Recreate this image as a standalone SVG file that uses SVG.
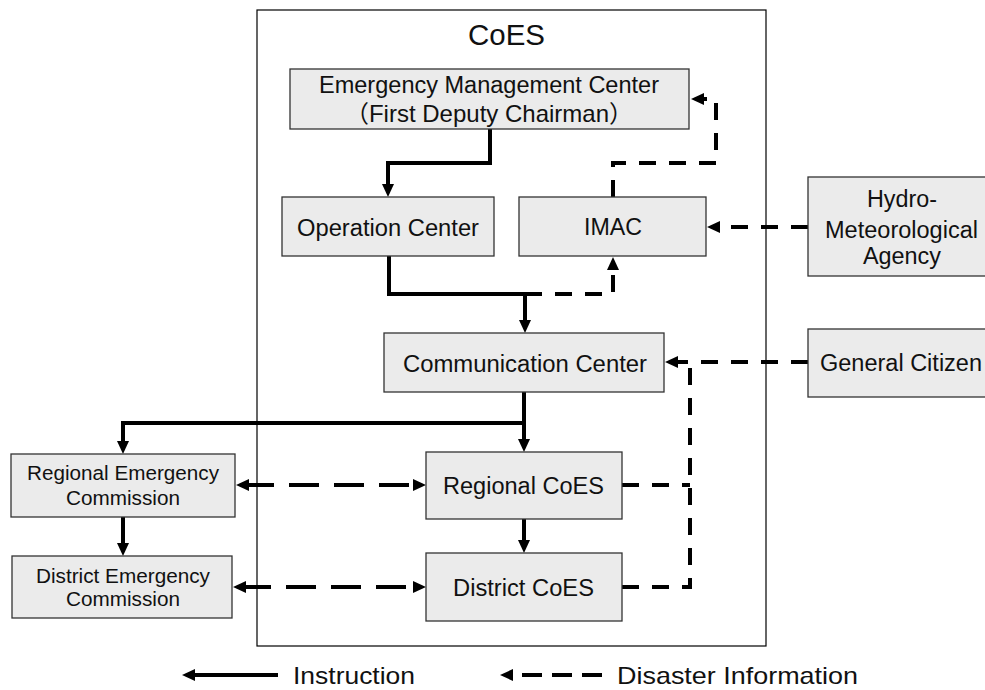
<svg xmlns="http://www.w3.org/2000/svg" width="985" height="690" viewBox="0 0 985 690">
<style>
.bx{fill:#ebebeb;stroke:#333;stroke-width:1.3}
.t{font-family:"Liberation Sans",Arial,"Noto Sans CJK JP",sans-serif;font-size:23.5px;fill:#111}
.ts{font-size:20.5px}
.sol{fill:none;stroke:#000;stroke-width:4;marker-end:url(#arr)}
.dsh{fill:none;stroke:#000;stroke-width:4;stroke-dasharray:17 13}
.dl{stroke-dasharray:30 15}
.ae{marker-end:url(#arr)}
.as{marker-start:url(#arr)}
</style>
<defs>
<marker id="arr" markerUnits="userSpaceOnUse" markerWidth="14" markerHeight="14" viewBox="0 0 14 14" refX="5" refY="7" orient="auto-start-reverse"><path d="M0,1 L13,7 L0,13 Z" fill="#000"/></marker>
</defs>
<rect width="985" height="690" fill="#fff"/>
<g id="coes">
<rect x="257" y="10" width="509" height="636" fill="none" stroke="#000" stroke-width="1.2"/>
<text class="t" x="468" y="45" style="font-size:29px" textLength="77" lengthAdjust="spacingAndGlyphs">CoES</text>
</g>
<g id="connectors">
<path class="sol" d="M490,129 V163 H388 V189"/>
<path class="sol" d="M389,256 V294 H525 V325"/>
<path class="sol" d="M524,392 V423 H123 V446"/>
<path class="sol" d="M524,423 V444"/>
<path class="sol" d="M123,517 V548"/>
<path class="sol" d="M524,519 V545"/>
<path class="dsh ae" d="M613,197 V163 H716 V99 H699"/>
<path class="dsh ae" d="M808,227 H715"/>
<path class="dsh ae" d="M525,294 H613 V265"/>
<path class="dsh ae" d="M808,362 H673"/>
<path class="dsh" d="M622,587 H690 V362"/>
<path class="dsh" d="M622,485 H690"/>
<path class="dsh dl ae as" d="M244,485 H418"/>
<path class="dsh dl ae as" d="M241,587 H418"/>
</g>
<g id="emc">
<rect class="bx" x="290" y="69" width="399" height="60"/>
<text class="t" x="319" y="93" textLength="340" lengthAdjust="spacingAndGlyphs">Emergency Management Center</text>
<text class="t" x="489" y="122" text-anchor="middle" style="font-size:24px">（First Deputy Chairman）</text>
</g>
<g id="operation">
<rect class="bx" x="282" y="197" width="212" height="59"/>
<text class="t" x="297" y="236" textLength="182" lengthAdjust="spacingAndGlyphs">Operation Center</text>
</g>
<g id="imac">
<rect class="bx" x="519" y="197" width="187" height="59"/>
<text class="t" x="584" y="235" textLength="58" lengthAdjust="spacingAndGlyphs">IMAC</text>
</g>
<g id="hydro">
<rect class="bx" x="808" y="177" width="186" height="99"/>
<text class="t" x="867" y="207" textLength="70" lengthAdjust="spacingAndGlyphs">Hydro-</text>
<text class="t" x="825" y="238" textLength="153" lengthAdjust="spacingAndGlyphs">Meteorological</text>
<text class="t" x="863" y="264" textLength="78" lengthAdjust="spacingAndGlyphs">Agency</text>
</g>
<g id="citizen">
<rect class="bx" x="808" y="329" width="186" height="68"/>
<text class="t" x="820" y="371" textLength="162" lengthAdjust="spacingAndGlyphs">General Citizen</text>
</g>
<g id="comm">
<rect class="bx" x="384" y="333" width="280" height="59"/>
<text class="t" x="403" y="372" textLength="244" lengthAdjust="spacingAndGlyphs">Communication Center</text>
</g>
<g id="regcoes">
<rect class="bx" x="426" y="452" width="196" height="67"/>
<text class="t" x="443" y="494" textLength="161" lengthAdjust="spacingAndGlyphs">Regional CoES</text>
</g>
<g id="distcoes">
<rect class="bx" x="426" y="553" width="196" height="68"/>
<text class="t" x="453" y="596" textLength="141" lengthAdjust="spacingAndGlyphs">District CoES</text>
</g>
<g id="rec">
<rect class="bx" x="11" y="454" width="224" height="63"/>
<text class="t ts" x="27" y="480" textLength="192" lengthAdjust="spacingAndGlyphs">Regional Emergency</text>
<text class="t ts" x="66" y="505" textLength="114" lengthAdjust="spacingAndGlyphs">Commission</text>
</g>
<g id="dec">
<rect class="bx" x="12" y="556" width="220" height="62"/>
<text class="t ts" x="36" y="583" textLength="174" lengthAdjust="spacingAndGlyphs">District Emergency</text>
<text class="t ts" x="66" y="606" textLength="114" lengthAdjust="spacingAndGlyphs">Commission</text>
</g>
<g id="legend">
<path class="sol" d="M278,675 H190"/>
<text class="t" x="293" y="684" style="font-size:24px" textLength="122" lengthAdjust="spacingAndGlyphs">Instruction</text>
<path class="dsh ae" style="stroke-dasharray:20 10" d="M602,675 H508"/>
<text class="t" x="617" y="684" style="font-size:24px" textLength="241" lengthAdjust="spacingAndGlyphs">Disaster Information</text>
</g>
</svg>
